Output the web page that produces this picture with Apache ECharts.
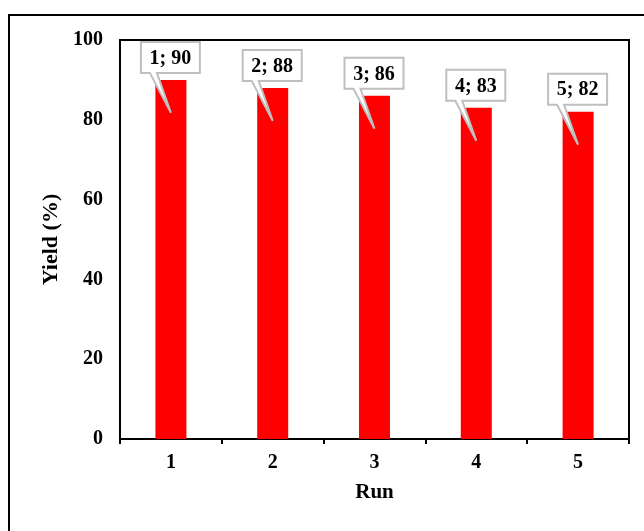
<!DOCTYPE html>
<html><head><meta charset="utf-8">
<script src="https://cdn.jsdelivr.net/npm/echarts@6/dist/echarts.min.js"></script>
<style>html,body{margin:0;padding:0;background:#fff}#c{width:644px;height:531px}</style>
</head><body><div id="c"></div>
<script>
const runs = ['1','2','3','4','5'];
const yields = [90, 88, 86, 83, 82];
const yTicks = [0, 20, 40, 60, 80, 100];

const font = 'Liberation Serif';
const chart = echarts.init(document.getElementById('c'), null, {renderer:'canvas'});
chart.setOption({
  animation: false,
  backgroundColor: '#fff',
  graphic: [{
    type: 'rect', shape: {x: 9, y: 15, width: 700, height: 600},
    style: {fill: 'none', stroke: '#000', lineWidth: 2}, silent: true, z: 0
  }],
  grid: {left: 120, top: 40, right: 15, bottom: 92, show: true, borderColor: '#000', borderWidth: 2, backgroundColor: 'transparent'},
  xAxis: {
    type: 'category', data: runs, boundaryGap: true,
    name: 'Run', nameLocation: 'middle', nameGap: 43,
    nameTextStyle: {fontFamily: font, fontWeight: 'bold', fontSize: 21, color: '#000'},
    axisLine: {lineStyle: {color: '#000', width: 2}},
    axisTick: {show: true, alignWithLabel: false, length: 5, lineStyle: {color: '#000', width: 2}},
    axisLabel: {fontFamily: font, fontWeight: 'bold', fontSize: 20, color: '#000', margin: 14},
    splitLine: {show: false}
  },
  yAxis: {
    type: 'value', min: yTicks[0], max: yTicks[yTicks.length-1], interval: 20,
    name: 'Yield (%)', nameLocation: 'middle', nameGap: 57,
    nameTextStyle: {fontFamily: font, fontWeight: 'bold', fontSize: 22, color: '#000'},
    axisLine: {show: true, lineStyle: {color: '#000', width: 2}},
    axisTick: {show: false},
    axisLabel: {fontFamily: font, fontWeight: 'bold', fontSize: 20, color: '#000', margin: 17},
    splitLine: {show: false}
  },
  series: [{
    type: 'bar', data: yields, barWidth: 31,
    itemStyle: {color: '#ff0000'}, z: 2
  }, {
    type: 'custom', z: 5,
    data: yields.map((v, i) => [i, v]),
    encode: {x: 0, y: 1},
    renderItem: function (params, api) {
      const i = api.value(0), v = api.value(1);
      const p = api.coord([i, v]);
      const cx = p[0], top = p[1];
      const B = top - 7, T = B - 31, L = cx - 30, R = cx + 29;
      return {
        type: 'group',
        children: [{
          type: 'polygon',
          shape: {points: [[L, T], [R, T], [R, B], [cx - 14, B], [cx, top + 33], [cx - 21, B], [L, B]]},
          style: {fill: '#fff', stroke: '#bfbfbf', lineWidth: 2}
        }, {
          type: 'text',
          style: {
            x: (L + R) / 2, y: (T + B) / 2 + 1, text: runs[i] + '; ' + v,
            align: 'center', verticalAlign: 'middle',
            font: 'bold 20px "Liberation Serif"', fill: '#000'
          }
        }]
      };
    }
  }]
});
</script></body></html>
